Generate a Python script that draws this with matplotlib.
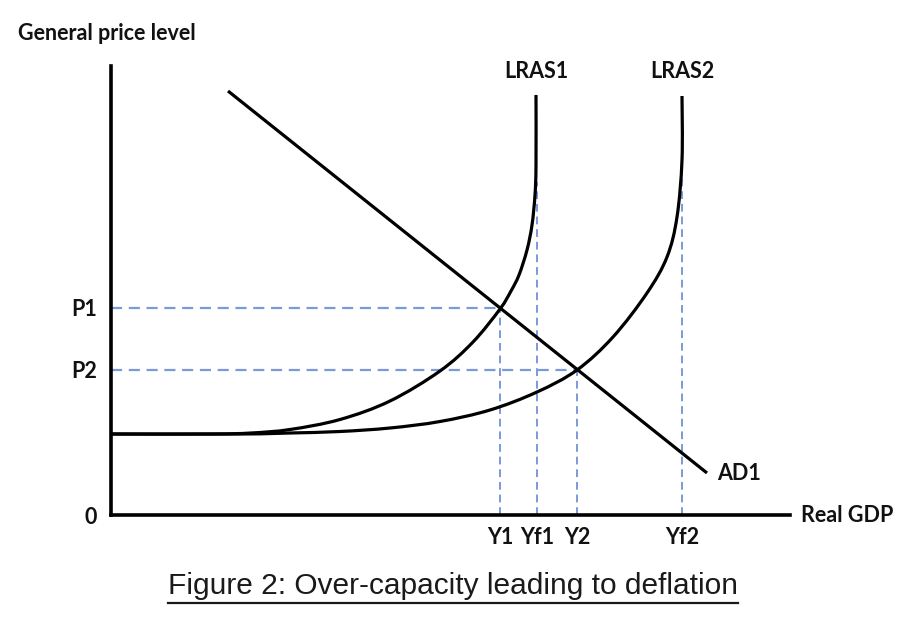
import matplotlib
matplotlib.use("Agg")
import matplotlib.pyplot as plt
from matplotlib.lines import Line2D
from matplotlib.path import Path
from matplotlib.patches import PathPatch

# Curve points (origin at the axes corner)
lras1_x = [0, 100, 140, 179, 229, 279, 329, 362, 389, 400, 408, 416, 421, 424, 425, 425]
lras1_y = [81, 81, 82, 85.5, 95.5, 114, 144, 173, 206, 224, 240, 265, 290, 320, 350, 420]
lras2_x = [0, 130, 179, 229, 279, 329, 379, 426, 466, 502, 536, 556, 566, 571, 571]
lras2_y = [81, 81, 82, 83.5, 87, 93.5, 105, 123, 145, 178, 222, 258, 298, 355, 419]
ad_x = [117, 596]
ad_y = [424, 42]

# Equilibrium / capacity levels
p_levels = [207, 145]
p_labels = ["P1", "P2"]
y_levels = [389, 426, 466, 571]
y_labels = ["Y1", "Yf1", "Y2", "Yf2"]
y_tops = [207, 333, 145, 340]   # where each dashed vertical stops
p_ends = [389, 466]             # where each dashed horizontal stops


def smooth_path(xs, ys):
    """Bezier path through the read points (Catmull-Rom style handles)."""
    pts = list(zip(xs, ys))
    verts = [pts[0]]
    codes = [Path.MOVETO]
    n = len(pts)
    for i in range(n - 1):
        p0 = pts[max(i - 1, 0)]
        p1 = pts[i]
        p2 = pts[i + 1]
        p3 = pts[min(i + 2, n - 1)]
        c1 = (p1[0] + (p2[0] - p0[0]) / 6, p1[1] + (p2[1] - p0[1]) / 6)
        c2 = (p2[0] - (p3[0] - p1[0]) / 6, p2[1] - (p3[1] - p1[1]) / 6)
        verts += [c1, c2, p2]
        codes += [Path.CURVE4] * 3
    return Path(verts, codes)


W, H = 906, 626
fig = plt.figure(figsize=(W / 100, H / 100), dpi=100)
ax = fig.add_axes([111 / W, (H - 515) / H, (790 - 111) / W, (515 - 66) / H])
ax.set_xlim(0, 679)
ax.set_ylim(0, 449)

lab_font = dict(family=["Lato", "DejaVu Sans"], weight="bold", size=15.5, color="#111111")

for s in ["top", "right"]:
    ax.spines[s].set_visible(False)
for s in ["left", "bottom"]:
    ax.spines[s].set_linewidth(2.6)
    ax.spines[s].set_color("black")

ax.set_yticks([0] + p_levels)
ax.set_yticklabels(["0"] + p_labels, **lab_font)
ax.set_xticks(y_levels)
ax.set_xticklabels(y_labels, **lab_font)
ax.tick_params(length=0)
ax.tick_params(axis="y", pad=10)
ax.tick_params(axis="x", pad=9)

dash_col = "#7a9ad8"
for p, xe in zip(p_levels, p_ends):
    ax.plot([0, xe], [p, p], color=dash_col, lw=1.6, ls=(0, (5, 3)), zorder=1)
for yv, yt in zip(y_levels, y_tops):
    ax.plot([yv, yv], [0, yt], color=dash_col, lw=1.4, ls=(0, (4, 2.5)), zorder=1)

for xs, ys in [(lras1_x, lras1_y), (lras2_x, lras2_y)]:
    ax.add_patch(PathPatch(smooth_path(xs, ys), facecolor="none",
                           edgecolor="black", lw=2.3, zorder=3, capstyle="butt"))
ax.plot(ad_x, ad_y, color="black", lw=2.3, zorder=3, solid_capstyle="butt")

ax.text(lras1_x[-1], 443, "LRAS1", ha="center", va="center", **lab_font)
ax.text(lras2_x[-1], 443, "LRAS2", ha="center", va="center", **lab_font)
ax.text(ad_x[-1] + 10, ad_y[-1], "AD1", ha="left", va="center", **lab_font)
ax.text(690, -1, "Real GDP", ha="left", va="center", clip_on=False, **lab_font)
ax.text(-93, 482, "General price level", ha="left", va="center", clip_on=False, **lab_font)

cap = fig.text(453 / W, 1 - 586 / H,
               "Figure 2: Over-capacity leading to deflation",
               ha="center", va="center", family=["Liberation Sans", "DejaVu Sans"],
               size=21.5, color="#1a1a1a")

fig.canvas.draw()
bb = cap.get_window_extent().transformed(fig.transFigure.inverted())
uy = 1 - 603 / H
fig.add_artist(Line2D([bb.x0, bb.x1], [uy, uy], transform=fig.transFigure,
                      color="#1a1a1a", lw=1.6))

fig.savefig("out.png", dpi=100)
